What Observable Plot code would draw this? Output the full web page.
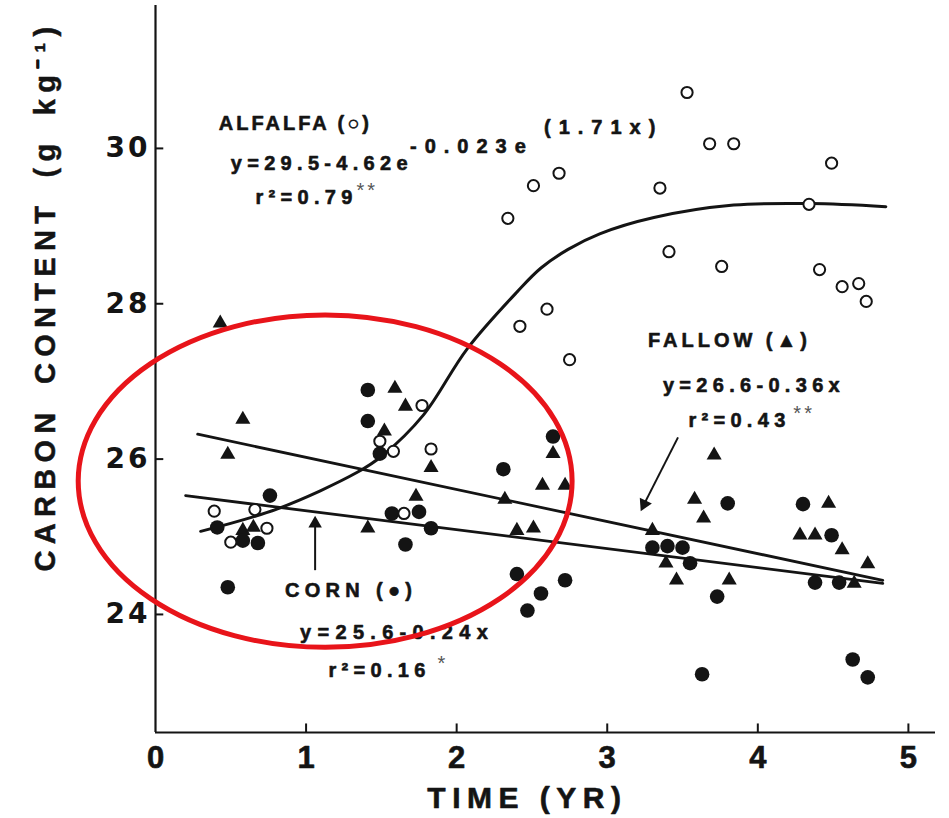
<!DOCTYPE html>
<html>
<head>
<meta charset="utf-8">
<script src="https://cdn.jsdelivr.net/npm/d3@7"></script>
<script src="https://cdn.jsdelivr.net/npm/@observablehq/plot@0.6"></script>
<style>
  html, body { margin: 0; padding: 0; background: #fff; }
  #chart svg { display: block; }
  .ls3 text { letter-spacing: 3px; }
  .ls4 text { letter-spacing: 4px; }
  .ls5 text { letter-spacing: 5.3px; }
  .ls6 text { letter-spacing: 6.3px; }
  .ls8 text { letter-spacing: 8px; }
  .tick text { letter-spacing: 3px; }
  .ytitle text { letter-spacing: 6.3px; word-spacing: 8px; }
  .xtitle text { letter-spacing: 6.5px; }
</style>
</head>
<body>
<div id="chart"></div>
<script>
// ---- data ----
const alfalfaX = [0.39,0.50,0.66,0.74,1.49,1.58,1.65,1.77,1.83,2.34,2.42,2.51,2.60,2.68,2.75,3.35,3.41,3.53,3.68,3.76,3.84,4.34,4.41,4.49,4.56,4.67,4.72];
const alfalfaY = [25.33,24.93,25.35,25.11,26.23,26.10,25.30,26.69,26.13,29.10,27.71,29.52,27.93,29.68,27.28,29.49,28.67,30.72,30.06,28.48,30.06,29.28,28.44,29.81,28.22,28.26,28.03];

const cornX = [0.41,0.48,0.58,0.68,0.76,1.41,1.41,1.49,1.57,1.66,1.75,1.83,2.31,2.40,2.47,2.56,2.64,2.72,3.30,3.40,3.50,3.55,3.63,3.73,3.80,4.30,4.38,4.49,4.54,4.63,4.73];
const cornY = [25.12,24.35,24.95,24.92,25.53,26.89,26.49,26.07,25.30,24.90,25.32,25.11,25.87,24.52,24.05,24.27,26.29,24.44,24.86,24.88,24.86,24.66,23.23,24.23,25.43,25.42,24.41,25.02,24.41,23.42,23.19];

const fallowX = [0.43,0.48,0.58,0.58,0.65,1.41,1.52,1.59,1.66,1.73,1.83,2.32,2.40,2.51,2.57,2.64,2.72,3.30,3.39,3.46,3.58,3.64,3.71,3.81,4.28,4.38,4.47,4.56,4.64,4.73];
const fallowY = [27.75,26.06,26.51,25.08,25.12,25.11,26.36,26.91,26.68,25.52,25.89,25.48,25.08,25.11,25.66,26.07,25.66,25.08,24.66,24.44,25.48,25.24,26.05,24.44,25.02,25.02,25.43,24.83,24.40,24.65];

// alfalfa fitted curve
const alfalfaCurveX = [0.30,0.81,1.34,1.51,1.78,2.07,2.40,2.56,2.74,2.95,3.31,3.84,4.35,4.85];
const alfalfaCurveY = [25.07,25.36,25.83,26.05,26.57,27.42,28.15,28.46,28.70,28.90,29.11,29.27,29.29,29.25];

// regression lines (end points)
const fallowLineX = [0.28, 4.83];
const fallowLineY = [26.32, 24.44];
const cornLineX = [0.20, 4.83];
const cornLineY = [25.53, 24.40];

const xTicks = [0,1,2,3,4,5];
const yTicks = [24,26,28,30];

// red highlight ellipse (centre and radii, data units)
const ellipseCenter = [1.13, 25.71];
const ellipseRadii = [1.64, 2.14];

const toRows = (xs, ys) => xs.map((x, i) => ({x, y: ys[i]}));
const alfalfa = toRows(alfalfaX, alfalfaY);
const corn = toRows(cornX, cornY);
const fallow = toRows(fallowX, fallowY);
const alfalfaCurve = toRows(alfalfaCurveX, alfalfaCurveY);
const fallowLine = toRows(fallowLineX, fallowLineY);
const cornLine = toRows(cornLineX, cornLineY);

const INK = "#141414";
const SANS = "'Liberation Sans', Arial, Helvetica, sans-serif";
const XMIN = 22.48;

const txt = (t, x, y, o = {}) => Plot.text([{x, y, t}], {
  x: "x", y: "y", text: "t", textAnchor: "start", lineAnchor: "middle",
  fontSize: 20, fontWeight: "bold", fill: INK, stroke: INK, strokeWidth: 0.6,
  fontFamily: SANS, ...o
});

const chart = Plot.plot({
  width: 949,
  height: 818,
  marginLeft: 155,
  marginRight: 14,
  marginTop: 5,
  marginBottom: 86,
  x: {domain: [0, 5.18], axis: null},
  y: {domain: [XMIN, 31.84], axis: null},
  style: {background: "#fff", fontFamily: SANS, color: INK},
  marks: [
    // axes
    Plot.ruleX([0], {stroke: INK, strokeWidth: 2.2}),
    Plot.ruleY([XMIN], {stroke: INK, strokeWidth: 2.2}),
    Plot.ruleY(yTicks, {x1: 0, x2: 0.055, stroke: INK, strokeWidth: 2}),
    Plot.ruleX(xTicks.slice(1), {y1: XMIN, y2: XMIN + 0.11, stroke: INK, strokeWidth: 2}),
    Plot.text(yTicks, {x: 0, y: d => d, text: d => String(d), textAnchor: "end", dx: -5,
      fontSize: 28, fontWeight: "bold", fontFamily: "'DejaVu Sans', sans-serif", fill: INK, className: "tick"}),
    Plot.text(xTicks, {x: d => d, y: XMIN, text: d => String(d), dy: 26, lineAnchor: "middle",
      fontSize: 31, fontWeight: "bold", fontFamily: SANS, fill: INK, stroke: INK, strokeWidth: 0.6}),
    Plot.text(["TIME (YR)"], {x: 2.47, y: XMIN, text: d => d, dy: 66, lineAnchor: "middle",
      fontSize: 30, fontWeight: "bold", fontFamily: SANS, fill: INK, stroke: INK, strokeWidth: 0.6, className: "xtitle"}),
    Plot.text(["CARBON CONTENT (g kg\u207B\u00B9)"], {x: -0.73, y: 28.1, text: d => d, rotate: -90,
      lineAnchor: "middle", fontSize: 29, fontWeight: "bold", fontFamily: SANS, fill: INK,
      stroke: INK, strokeWidth: 0.5, className: "ytitle"}),

    // fitted lines
    Plot.line(alfalfaCurve, {x: "x", y: "y", curve: "catmull-rom", stroke: INK, strokeWidth: 3}),
    Plot.line(fallowLine, {x: "x", y: "y", stroke: INK, strokeWidth: 2.8}),
    Plot.line(cornLine, {x: "x", y: "y", stroke: INK, strokeWidth: 2.8}),

    // points
    Plot.dot(fallow, {x: "x", y: "y", symbol: "triangle", r: 5.6, fill: INK, stroke: "none"}),
    Plot.dot(corn, {x: "x", y: "y", r: 7.3, fill: INK, stroke: "none"}),
    Plot.dot(alfalfa, {x: "x", y: "y", r: 5.6, fill: "#fff", stroke: INK, strokeWidth: 2}),

    // annotations: alfalfa
    txt("ALFALFA (\u25CB)", 0.42, 30.32, {className: "ls3"}),
    txt("y=29.5-4.62e", 0.50, 29.81, {className: "ls5"}),
    txt("-0.023e", 1.69, 30.02, {className: "ls8"}),
    txt("(1.71x)", 2.58, 30.27, {className: "ls8"}),
    txt("r\u00B2=0.79", 0.664, 29.37, {className: "ls5"}),
    txt("**", 1.335, 29.46, {fontWeight: "normal", fill: "#555", stroke: "none", className: "ls3"}),

    // fallow
    txt("FALLOW (\u25B2)", 3.27, 27.53, {className: "ls4"}),
    txt("y=26.6-0.36x", 3.37, 26.95, {className: "ls5"}),
    txt("r\u00B2=0.43", 3.539, 26.50, {className: "ls5"}),
    txt("**", 4.236, 26.59, {fontWeight: "normal", fill: "#555", stroke: "none", className: "ls3"}),
    Plot.link([{x1: 3.47, y1: 26.28, x2: 3.245, y2: 25.42}], {x1: "x1", y1: "y1", x2: "x2", y2: "y2", stroke: INK, strokeWidth: 2}),
    Plot.dot([{x: 3.245, y: 25.42}], {x: "x", y: "y", symbol: "triangle", r: 5, rotate: 206, fill: INK}),

    // corn
    txt("CORN (\u25CF)", 0.86, 24.31, {className: "ls5"}),
    txt("y=25.6-0.24x", 0.96, 23.76, {className: "ls6"}),
    txt("r\u00B2=0.16", 1.149, 23.28, {className: "ls5"}),
    txt("*", 1.873, 23.37, {fontWeight: "normal", fill: "#555", stroke: "none"}),
    Plot.link([{x1: 1.06, y1: 24.57, x2: 1.06, y2: 25.15}], {x1: "x1", y1: "y1", x2: "x2", y2: "y2", stroke: INK, strokeWidth: 2}),
    Plot.dot([{x: 1.06, y: 25.17}], {x: "x", y: "y", symbol: "triangle", r: 5, fill: INK})
  ]
});

// red highlight ellipse placed through the chart's scales
const sx = chart.scale("x"), sy = chart.scale("y");
const cx = sx.apply(ellipseCenter[0]), cy = sy.apply(ellipseCenter[1]);
const rx = sx.apply(ellipseCenter[0] + ellipseRadii[0]) - cx;
const ry = cy - sy.apply(ellipseCenter[1] + ellipseRadii[1]);
d3.select(chart).append("ellipse")
  .attr("cx", cx).attr("cy", cy).attr("rx", rx).attr("ry", ry)
  .attr("fill", "none").attr("stroke", "#e8141a").attr("stroke-width", 5);

document.getElementById("chart").append(chart);
</script>
</body>
</html>
